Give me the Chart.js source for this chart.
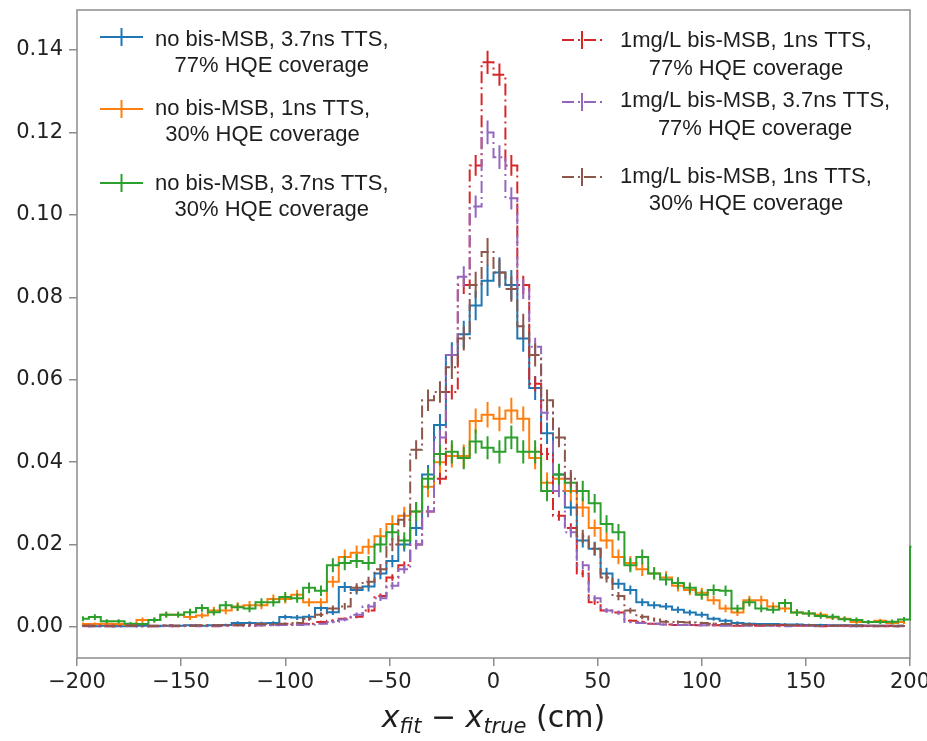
<!DOCTYPE html>
<html><head><meta charset="utf-8">
<script src="https://cdn.jsdelivr.net/npm/chart.js@4.4.1/dist/chart.umd.min.js"></script>
<style>html,body{margin:0;padding:0;background:#fff}canvas{display:block}</style>
</head><body>
<canvas id="c" width="927" height="741"></canvas>
<script>
// ---- binning (categories) ----
const HIST_MIN = -200, HIST_MAX = 200, N_BINS = 70;
const binCenters = Array.from({length: N_BINS}, (_, i) => HIST_MIN + (i + 0.5) * (HIST_MAX - HIST_MIN) / N_BINS);
const xTickValues = [-200, -150, -100, -50, 0, 50, 100, 150, 200];
const yTickValues = [0, 0.02, 0.04, 0.06, 0.08, 0.10, 0.12, 0.14];

// ---- series values ----
const blueVals = [0.0003,0.0002,0.0003,0.0002,0.0002,0.0003,0.0002,0.0003,0.0003,0.0004,0.0003,0.0004,0.0005,
 0.001,0.001,0.0009,0.001, 0.0024,0.0023,0.0025,
 0.0046,0.0036,0.0097,0.009,0.0098,0.013,0.016,0.02,0.024,0.037,0.049,0.066,0.071,0.078,0.084,0.086,0.083,0.07,0.058,0.047,0.037,0.029,0.021,0.019,0.013,0.0105,0.009,0.006,0.0053,0.005,0.0042,0.0035,0.003,0.002,0.0015,0.001,
 0.0008,0.0007,0.0007,0.0006,0.0006,0.0005,0.0005,0.0004,0.0004,0.0004,0.0003,0.0003,0.0003,0.0003];
const blueErr = [0.0002,0.0002,0.0002,0.0002,0.0002,0.0002,0.0002,0.0002,0.0002,0.0002,0.0002,0.0002,0.0003,
 0.0004,0.0004,0.0004,0.0004, 0.0006,0.0006,0.0006,
 0.0008,0.0007,0.0012,0.0011,0.0012,0.0014,0.0015,0.0017,0.0019,0.0023,0.0027,0.0031,0.0033,0.0036,0.0037,0.0037,0.0036,0.0032,0.0029,0.0026,0.0023,0.002,0.0017,0.0017,0.0014,0.0012,0.0011,0.0009,0.0009,0.0008,0.0008,0.0007,0.0007,0.0005,0.0005,0.0004,
 0.0003,0.0003,0.0003,0.0003,0.0003,0.0003,0.0003,0.0002,0.0002,0.0002,0.0002,0.0002,0.0002,0.0002];

const orangeVals = [0.0007,0.0007,0.0008,0.0007,0.0005,
 0.0017,0.0017,0.003,0.003,0.0024,0.0028,0.004,0.004,0.005,0.0053,0.0053,0.0068,0.0068,0.0078,0.006,0.006,
 0.011,0.017,0.018,0.0195,0.022,0.025,0.027,0.028,0.034,0.040,0.0415,0.0415,0.050,0.0515,0.0505,0.0525,0.0505,
 0.041,0.035,0.036,0.033,0.029,0.024,0.021,0.017,0.0155,0.014,0.013,0.012,0.010,0.009,0.0083,0.0065,0.0045,0.0035,
 0.0065,0.0065,0.005,0.0045,0.0035,0.0033,0.003,0.0023,0.002,0.0012,0.0012,0.0015,0.001,0.0012];
const orangeErr = [0.0004,0.0004,0.0004,0.0004,0.0003,
 0.0006,0.0006,0.0007,0.0007,0.0007,0.0007,0.0009,0.0009,0.001,0.001,0.001,0.0011,0.0011,0.0012,0.001,0.001,
 0.0014,0.0018,0.0018,0.0019,0.002,0.0021,0.0022,0.0023,0.0025,0.0027,0.0028,0.0028,0.003,0.0031,0.003,0.0031,0.003,
 0.0027,0.0025,0.0026,0.0025,0.0023,0.0021,0.002,0.0018,0.0017,0.0016,0.0015,0.0015,0.0014,0.0013,0.0012,0.0011,0.0009,0.0008,
 0.0011,0.0011,0.001,0.0009,0.0008,0.0008,0.0007,0.0006,0.0006,0.0005,0.0005,0.0005,0.0004,0.0005];

const greenVals = [0.002,0.0024,0.0014,0.0014,0.0008,0.0007,0.0017,0.003,0.003,0.0036,0.0046,0.0036,0.0053,0.0048,0.0045,0.006,0.006,0.0073,0.007,0.0095,0.0088,
 0.015,0.0155,0.016,0.0155,0.020,0.023,0.021,0.028,0.036,0.042,0.0425,0.041,0.045,0.0435,0.0425,0.046,0.0425,0.0425,
 0.033,0.037,0.035,0.033,0.030,0.025,0.023,0.015,0.017,0.013,0.0115,0.0107,0.0095,0.0078,0.009,0.0088,0.0045,0.006,0.0045,0.0042,0.0058,
 0.0035,0.0033,0.0027,0.0025,0.0019,0.0017,0.0012,0.0012,0.0013,0.0018];
const greenErr = [0.0006,0.0007,0.0005,0.0005,0.0004,0.0004,0.0006,0.0007,0.0007,0.0008,0.0009,0.0008,0.001,0.0009,0.0009,0.001,0.001,0.0012,0.0011,0.0013,0.0013,
 0.0017,0.0017,0.0017,0.0017,0.0019,0.002,0.002,0.0023,0.0026,0.0028,0.0028,0.0027,0.0029,0.0028,0.0028,0.0029,0.0028,0.0028,
 0.0025,0.0026,0.0025,0.0025,0.0023,0.0021,0.002,0.0017,0.0018,0.0015,0.0014,0.0014,0.0013,0.0012,0.0013,0.0013,0.0009,0.001,0.0009,0.0009,0.001,
 0.0008,0.0008,0.0007,0.0007,0.0006,0.0006,0.0005,0.0005,0.0005,0.0006];
const greenOverflow = 0.0195;

const redVals = [0.0003,0.0002,0.0003,0.0002,0.0003,0.0002,0.0002,0.0003,0.0002,0.0003,0.0003,0.0002,0.0003,0.0004,0.0003,0.0004,0.0005,0.0005,
 0.0006,0.0008,0.0012,0.0015,0.002,0.0025,0.004,0.0075,0.012,0.015,0.02,0.028,0.036,0.057,0.083,0.112,0.137,0.134,0.112,0.083,0.059,0.042,0.027,0.024,0.013,0.006,0.004,0.0035,0.0015,0.0012,0.0008,
 0.0006,0.0005,0.0005,0.0004,0.0004,0.0005,0.0003,0.0004,0.0003,0.0003,0.0004,0.0003,0.0003,0.0002,0.0003,0.0003,0.0002,0.0003,0.0002,0.0003,0.0002];
const redErr = [0.0001,0.0001,0.0001,0.0001,0.0001,0.0001,0.0001,0.0001,0.0001,0.0001,0.0001,0.0001,0.0001,0.0002,0.0001,0.0002,0.0002,0.0002,
 0.0002,0.0002,0.0003,0.0003,0.0003,0.0004,0.0005,0.0006,0.0008,0.0009,0.0011,0.0013,0.0014,0.0018,0.0022,0.0025,0.0028,0.0027,0.0025,0.0022,0.0018,0.0015,0.0012,0.0012,0.0009,0.0006,0.0005,0.0004,0.0003,0.0003,0.0002,
 0.0002,0.0002,0.0002,0.0002,0.0002,0.0002,0.0001,0.0002,0.0001,0.0001,0.0002,0.0001,0.0001,0.0001,0.0001,0.0001,0.0001,0.0001,0.0001,0.0001,0.0001];

const purpleVals = [0.0002,0.0003,0.0002,0.0002,0.0003,0.0002,0.0003,0.0002,0.0003,0.0003,0.0002,0.0003,0.0003,0.0004,0.0003,0.0004,0.0004,0.0005,0.0005,0.0006,
 0.0008,0.0012,0.0018,0.003,0.005,0.007,0.01,0.014,0.02,0.028,0.046,0.066,0.085,0.102,0.12,0.114,0.104,0.082,0.068,0.052,0.033,0.023,0.015,0.007,0.004,0.0035,0.0012,0.001,0.0008,
 0.0006,0.0005,0.0005,0.0004,0.0004,0.0003,0.0004,0.0003,0.0003,0.0003,0.0002,0.0003,0.0003,0.0002,0.0003,0.0002,0.0002,0.0003,0.0002,0.0002,0.0002];
const purpleErr = [0.0001,0.0001,0.0001,0.0001,0.0001,0.0001,0.0001,0.0001,0.0001,0.0001,0.0001,0.0001,0.0001,0.0002,0.0001,0.0002,0.0002,0.0002,0.0002,0.0002,
 0.0002,0.0003,0.0004,0.0005,0.0006,0.0007,0.0009,0.001,0.0012,0.0014,0.0018,0.0022,0.0025,0.0027,0.0029,0.0029,0.0027,0.0024,0.0022,0.0019,0.0015,0.0013,0.001,0.0007,0.0005,0.0005,0.0003,0.0003,0.0002,
 0.0002,0.0002,0.0002,0.0002,0.0002,0.0001,0.0002,0.0001,0.0001,0.0001,0.0001,0.0001,0.0001,0.0001,0.0001,0.0001,0.0001,0.0001,0.0001,0.0001,0.0001];

const brownVals = [0.0003,0.0003,0.0002,0.0003,0.0003,0.0002,0.0003,0.0004,0.0003,0.0003,0.0004,0.0004,0.0005,0.0005,0.0006,
 0.0007,0.0007,0.0008,0.001,0.002,0.003,0.0045,0.005,0.0095,0.011,0.014,0.02,0.026,0.043,0.055,0.057,0.063,0.07,0.083,0.091,0.086,0.082,0.073,0.066,0.055,0.046,0.036,0.022,0.019,0.012,0.0075,0.004,0.0025,0.0018,0.0013,0.0012,0.0011,0.001,
 0.0008,0.0007,0.0006,0.0006,0.0005,0.0005,0.0004,0.0004,0.0004,0.0003,0.0003,0.0003,0.0003,0.0002,0.0003,0.0002,0.0003];
const brownErr = [0.0002,0.0002,0.0002,0.0002,0.0002,0.0002,0.0002,0.0002,0.0002,0.0002,0.0002,0.0002,0.0002,0.0002,0.0003,
 0.0003,0.0003,0.0003,0.0003,0.0005,0.0006,0.0007,0.0008,0.0011,0.0012,0.0013,0.0016,0.0018,0.0023,0.0026,0.0026,0.0028,0.0029,0.0032,0.0034,0.0032,0.0031,0.003,0.0028,0.0026,0.0024,0.0021,0.0016,0.0015,0.0012,0.001,0.0007,0.0006,0.0005,0.0004,0.0004,0.0004,0.0003,
 0.0003,0.0003,0.0003,0.0003,0.0002,0.0002,0.0002,0.0002,0.0002,0.0002,0.0002,0.0002,0.0002,0.0002,0.0002,0.0002,0.0002];

const seriesLabels = [
  ["no bis-MSB, 3.7ns TTS,", "77% HQE coverage"],
  ["no bis-MSB, 1ns TTS,", "30% HQE coverage"],
  ["no bis-MSB, 3.7ns TTS,", "30% HQE coverage"],
  ["1mg/L bis-MSB, 1ns TTS,", "77% HQE coverage"],
  ["1mg/L bis-MSB, 3.7ns TTS,", "77% HQE coverage"],
  ["1mg/L bis-MSB, 1ns TTS,", "30% HQE coverage"]
];
const seriesColors = ['#1f77b4', '#ff7f0e', '#2ca02c', '#d62728', '#9467bd', '#8c564b'];
const DASHDOT = [12, 4, 2, 4];

// ---- build datasets ----
const allVals = [blueVals, orangeVals, greenVals, redVals, purpleVals, brownVals];
const allErrs = [blueErr, orangeErr, greenErr, redErr, purpleErr, brownErr];
const datasets = allVals.map((vals, s) => {
  const pts = binCenters.map((c, i) => ({x: c, y: vals[i]}));
  if (s === 2) pts.push({x: HIST_MAX + (HIST_MAX - HIST_MIN) / N_BINS / 2, y: greenOverflow});
  return {
    label: seriesLabels[s].join(' '),
    data: pts,
    values: vals,
    errors: allErrs[s],
    borderColor: seriesColors[s],
    backgroundColor: seriesColors[s],
    borderWidth: 2,
    borderDash: s >= 3 ? DASHDOT : [],
    pointRadius: 0,
    stepped: 'middle',
    fill: false,
    clip: {left: 0, top: 0, right: 1.5, bottom: 0},
    order: 6 - s
  };
});

// ---- plugins ----
const errorBarPlugin = {
  id: 'errbars',
  afterDatasetDraw(chart, args) {
    const ds = chart.data.datasets[args.index];
    if (!ds.errors) return;
    const {ctx, chartArea: a} = chart;
    const xs = chart.scales.x, ys = chart.scales.y;
    ctx.save();
    ctx.beginPath(); ctx.rect(a.left, a.top, a.right - a.left, a.bottom - a.top); ctx.clip();
    ctx.strokeStyle = ds.borderColor; ctx.lineWidth = 2; ctx.setLineDash([]);
    ctx.beginPath();
    ds.errors.forEach((e, i) => {
      const v = ds.values[i];
      const px = xs.getPixelForValue(binCenters[i]);
      ctx.moveTo(px, ys.getPixelForValue(v - e));
      ctx.lineTo(px, ys.getPixelForValue(v + e));
    });
    ctx.stroke();
    ctx.restore();
  }
};

const legendLayout = [
  {s: 0, hx0: 100, hx1: 143, hy: 37,  tx: 155, base: [46, 72]},
  {s: 1, hx0: 100, hx1: 143, hy: 109, tx: 155, base: [115, 141]},
  {s: 2, hx0: 100, hx1: 143, hy: 183, tx: 155, base: [190, 216]},
  {s: 3, hx0: 562, hx1: 602, hy: 40,  tx: 620, base: [47, 75]},
  {s: 4, hx0: 562, hx1: 602, hy: 102, tx: 620, base: [107, 135]},
  {s: 5, hx0: 562, hx1: 602, hy: 177, tx: 620, base: [183, 210]}
];

const framePlugin = {
  id: 'frame',
  beforeDatasetsDraw(chart) {
    const {ctx, chartArea: a} = chart;
    ctx.save();
    ctx.strokeStyle = '#8c8c8c'; ctx.lineWidth = 1.5; ctx.setLineDash([]);
    ctx.strokeRect(a.left, a.top, a.right - a.left, a.bottom - a.top);
    ctx.restore();
  }
};

const decorPlugin = {
  id: 'decor',
  afterDraw(chart) {
    const {ctx, chartArea: a} = chart;
    ctx.save();
    // legend
    ctx.font = '22px "Liberation Sans", Arial, sans-serif';
    ctx.fillStyle = '#1e1e1e';
    ctx.textBaseline = 'alphabetic';
    ctx.textAlign = 'center';
    legendLayout.forEach(L => {
      const col = seriesColors[L.s];
      ctx.strokeStyle = col; ctx.lineWidth = 2;
      ctx.setLineDash(L.s >= 3 ? DASHDOT : []);
      ctx.beginPath(); ctx.moveTo(L.hx0, L.hy); ctx.lineTo(L.hx1, L.hy); ctx.stroke();
      ctx.setLineDash([]);
      const mx = (L.hx0 + L.hx1) / 2;
      ctx.beginPath(); ctx.moveTo(mx, L.hy - 9); ctx.lineTo(mx, L.hy + 9); ctx.stroke();
      const lines = seriesLabels[L.s];
      const w = Math.max(...lines.map(t => ctx.measureText(t).width));
      lines.forEach((t, k) => ctx.fillText(t, L.tx + w / 2, L.base[k]));
    });
    // x-axis title: x_fit − x_true (cm)
    const big = 30, small = 21;
    const parts = [
      {t: 'x', f: `italic ${big}px "DejaVu Sans"`, dy: 0},
      {t: 'fit', f: `italic ${small}px "DejaVu Sans"`, dy: 6},
      {t: ' \u2212 ', f: `${big}px "DejaVu Sans"`, dy: 0},
      {t: 'x', f: `italic ${big}px "DejaVu Sans"`, dy: 0},
      {t: 'true', f: `italic ${small}px "DejaVu Sans"`, dy: 6},
      {t: ' (cm)', f: `${big}px "DejaVu Sans"`, dy: 0}
    ];
    ctx.textAlign = 'left';
    let total = 0;
    parts.forEach(p => { ctx.font = p.f; p.w = ctx.measureText(p.t).width; total += p.w; });
    let x0 = (a.left + a.right) / 2 - total / 2;
    const baseY = 727;
    parts.forEach(p => { ctx.font = p.f; ctx.fillText(p.t, x0, baseY + p.dy); x0 += p.w; });
    ctx.restore();
  }
};

const tickFont = {family: '"DejaVu Sans"', size: 21};

new Chart(document.getElementById('c'), {
  type: 'line',
  data: {datasets},
  options: {
    responsive: false,
    devicePixelRatio: 1,
    animation: false,
    layout: {padding: {top: 10, right: 17, left: 0, bottom: 0}},
    plugins: {legend: {display: false}, tooltip: {enabled: false}, title: {display: false}},
    scales: {
      x: {
        type: 'linear', min: HIST_MIN, max: HIST_MAX,
        afterBuildTicks: s => { s.ticks = xTickValues.map(v => ({value: v})); },
        afterFit: s => { s.height = 83; s.paddingLeft = 0; s.paddingRight = 0; },
        ticks: {
          font: tickFont, color: '#222', padding: 4, maxRotation: 0, autoSkip: false,
          callback: v => String(v).replace('-', '\u2212')
        },
        grid: {display: true, drawOnChartArea: false, drawTicks: true, tickLength: 8, color: '#8c8c8c', lineWidth: 1.5},
        border: {display: false}
      },
      y: {
        type: 'linear', min: -0.00752, max: 0.1497,
        afterBuildTicks: s => { s.ticks = yTickValues.map(v => ({value: v})); },
        afterFit: s => { s.width = 77; s.paddingTop = 0; s.paddingBottom = 0; },
        ticks: {
          font: tickFont, color: '#222', padding: 6, autoSkip: false,
          callback: v => Number(v).toFixed(2)
        },
        grid: {display: true, drawOnChartArea: false, drawTicks: true, tickLength: 8, color: '#8c8c8c', lineWidth: 1.5},
        border: {display: false}
      }
    }
  },
  plugins: [framePlugin, errorBarPlugin, decorPlugin]
});
</script>
</body></html>
